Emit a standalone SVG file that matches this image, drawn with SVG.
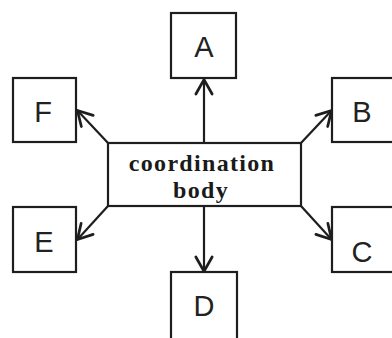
<svg xmlns="http://www.w3.org/2000/svg" width="392" height="338" viewBox="0 0 392 338">
<style>
.box{fill:#fff;stroke:#1e1e1e;stroke-width:2.2}
.lbl{font-family:"Liberation Sans",Arial,sans-serif;font-size:29px;fill:#222;text-anchor:middle}
.main{font-family:"Liberation Serif","Times New Roman",serif;font-size:24px;font-weight:bold;letter-spacing:1.3px;fill:#1a1a1a;text-anchor:middle}
.conn{stroke:#1e1e1e;stroke-width:2.2;fill:none}
</style>
<defs>
<marker id="arr" markerUnits="userSpaceOnUse" markerWidth="20" markerHeight="20" viewBox="-14 -8 16 16" refX="0" refY="0" orient="auto">
<path d="M-12,-6.5 L-0.5,0 L-12,6.5" fill="none" stroke="#1e1e1e" stroke-width="2.2" stroke-linejoin="round" stroke-linecap="round"/>
</marker>
</defs>
<rect width="392" height="338" fill="#fff"/>
<g id="connectors">
<line class="conn" x1="204" y1="143" x2="204" y2="79" marker-end="url(#arr)"/>
<line class="conn" x1="204" y1="206" x2="204" y2="272" marker-end="url(#arr)"/>
<line class="conn" x1="108" y1="143" x2="77" y2="110" marker-end="url(#arr)"/>
<line class="conn" x1="301" y1="143" x2="332" y2="110" marker-end="url(#arr)"/>
<line class="conn" x1="108" y1="206" x2="77" y2="240" marker-end="url(#arr)"/>
<line class="conn" x1="301" y1="206" x2="332" y2="240" marker-end="url(#arr)"/>
</g>
<g id="center">
<rect class="box" x="108" y="143" width="193" height="63"/>
<text class="main" x="202" y="170.5">coordination</text>
<text class="main" x="201" y="197.5">body</text>
</g>
<g id="nodeA">
<rect class="box" x="171" y="13" width="65" height="65"/>
<text class="lbl" x="204" y="57">A</text>
</g>
<g id="nodeB">
<rect class="box" x="332" y="78" width="66" height="64"/>
<text class="lbl" x="362" y="122">B</text>
</g>
<g id="nodeC">
<rect class="box" x="332" y="207" width="66" height="65"/>
<text class="lbl" x="362" y="262">C</text>
</g>
<g id="nodeD">
<rect class="box" x="171" y="272" width="66" height="72"/>
<text class="lbl" x="204" y="316">D</text>
</g>
<g id="nodeE">
<rect class="box" x="13" y="207" width="63" height="65"/>
<text class="lbl" x="44" y="252">E</text>
</g>
<g id="nodeF">
<rect class="box" x="13" y="78" width="63" height="64"/>
<text class="lbl" x="43" y="122">F</text>
</g>
</svg>
